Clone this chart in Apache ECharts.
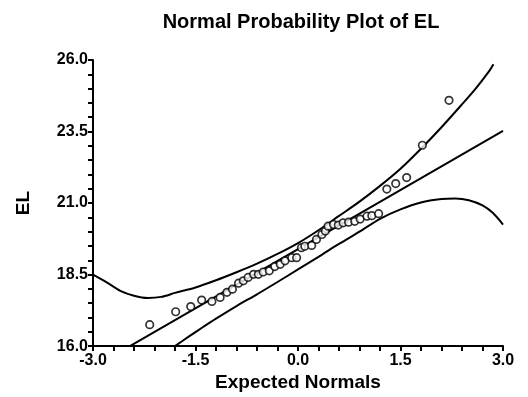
<!DOCTYPE html>
<html>
<head>
<meta charset="utf-8">
<script src="https://cdn.jsdelivr.net/npm/echarts@6/dist/echarts.min.js"></script>
<style>
html,body{margin:0;padding:0;background:#fff;}
#chart{width:528px;height:397px;}
</style>
</head>
<body>
<div id="chart"></div>
<script>
// Scatter points: expected normal scores and observed EL values
const expectedNormals = [-2.17,-1.79,-1.57,-1.41,-1.26,-1.14,-1.04,-0.96,-0.87,-0.80,-0.73,-0.65,-0.58,-0.51,-0.42,-0.34,-0.26,-0.19,-0.09,-0.02,0.05,0.10,0.20,0.27,0.35,0.40,0.44,0.52,0.59,0.66,0.74,0.83,0.91,1.01,1.08,1.18,1.30,1.43,1.59,1.82,2.21];
const elValues = [16.75,17.20,17.38,17.61,17.56,17.70,17.88,17.99,18.20,18.28,18.40,18.51,18.51,18.59,18.63,18.78,18.86,18.98,19.09,19.09,19.44,19.49,19.52,19.73,19.90,20.02,20.19,20.25,20.23,20.31,20.33,20.36,20.44,20.54,20.56,20.63,21.49,21.68,21.89,23.02,24.59];

// Reference (fitted) line
const refLineX = [-2.46, 3.0];
const refLineY = [16.0, 23.52];

// Upper confidence curve
const upperX = [-3.0,-2.8,-2.6,-2.4,-2.2,-2.0,-1.8,-1.5,-1.2,-0.9,-0.6,-0.3,0.0,0.3,0.6,0.9,1.2,1.5,1.8,2.1,2.4,2.6,2.8,2.86];
const upperY = [18.50,18.23,17.93,17.76,17.68,17.72,17.86,18.05,18.30,18.58,18.88,19.22,19.60,20.05,20.55,21.05,21.60,22.20,22.90,23.65,24.45,25.00,25.62,25.85];

// Lower confidence curve
const lowerX = [-1.80,-1.6,-1.4,-1.2,-0.9,-0.6,-0.3,0.0,0.3,0.6,0.9,1.2,1.5,1.8,2.1,2.3,2.5,2.7,2.85,3.0];
const lowerY = [16.00,16.33,16.65,16.96,17.40,17.81,18.24,18.68,19.12,19.57,20.00,20.45,20.78,21.02,21.14,21.16,21.10,20.92,20.66,20.25];

// Axis settings
const xTicks = {min:-3.0, max:3.0, interval:1.5};
const yTicks = {min:16.0, max:26.0, interval:2.5};

const zip = (a,b) => a.map((v,i)=>[v,b[i]]);
const FONT = '"Liberation Sans", Arial, sans-serif';

const chart = echarts.init(document.getElementById('chart'), null, {renderer:'canvas'});
const lineStyle = {color:'#000', width:2};
chart.setOption({
  animation:false,
  backgroundColor:'#fff',
  title:{
    text:'Normal Probability Plot of EL',
    left:296, textAlign:'center', top:7,
    textStyle:{fontFamily:FONT, fontSize:20, fontWeight:'bold', color:'#000'}
  },
  grid:{left:93, right:25, top:60, bottom:48, containLabel:false},
  xAxis:{
    type:'value', min:xTicks.min, max:xTicks.max, interval:xTicks.interval,
    name:'Expected Normals', nameLocation:'middle', nameGap:26,
    nameTextStyle:{fontFamily:FONT, fontSize:19, fontWeight:'bold', color:'#000'},
    axisLine:{show:true, onZero:false, lineStyle:{color:'#000', width:2}},
    axisTick:{show:true, inside:false, length:5, lineStyle:{color:'#000', width:2}},
    minorTick:{show:true, splitNumber:5, length:5, lineStyle:{color:'#000', width:2}},
    splitLine:{show:false},
    axisLabel:{fontFamily:FONT, fontSize:16, fontWeight:'bold', color:'#000', margin:6,
      formatter:v=>v.toFixed(1)}
  },
  yAxis:{
    type:'value', min:yTicks.min, max:yTicks.max, interval:yTicks.interval,
    name:'EL', nameLocation:'middle', nameGap:60, nameRotate:90,
    nameTextStyle:{fontFamily:FONT, fontSize:19, fontWeight:'bold', color:'#000'},
    axisLine:{show:true, onZero:false, lineStyle:{color:'#000', width:2}},
    axisTick:{show:true, inside:false, length:5, lineStyle:{color:'#000', width:2}},
    minorTick:{show:true, splitNumber:5, length:5, lineStyle:{color:'#000', width:2}},
    splitLine:{show:false},
    axisLabel:{fontFamily:FONT, fontSize:16, fontWeight:'bold', color:'#000', margin:5,
      formatter:v=>v.toFixed(1)}
  },
  series:[
    {type:'line', data:zip(upperX,upperY), smooth:0.3, symbol:'none', lineStyle:lineStyle, clip:true, z:2},
    {type:'line', data:zip(lowerX,lowerY), smooth:0.3, symbol:'none', lineStyle:lineStyle, clip:true, z:2},
    {type:'line', data:zip(refLineX,refLineY), symbol:'none', lineStyle:lineStyle, clip:true, z:2},
    {type:'scatter', data:zip(expectedNormals,elValues), symbol:'circle', symbolSize:7.5,
      itemStyle:{color:'#fff', borderColor:'#000', borderWidth:1.7}, z:5}
  ]
});
</script>
</body>
</html>
